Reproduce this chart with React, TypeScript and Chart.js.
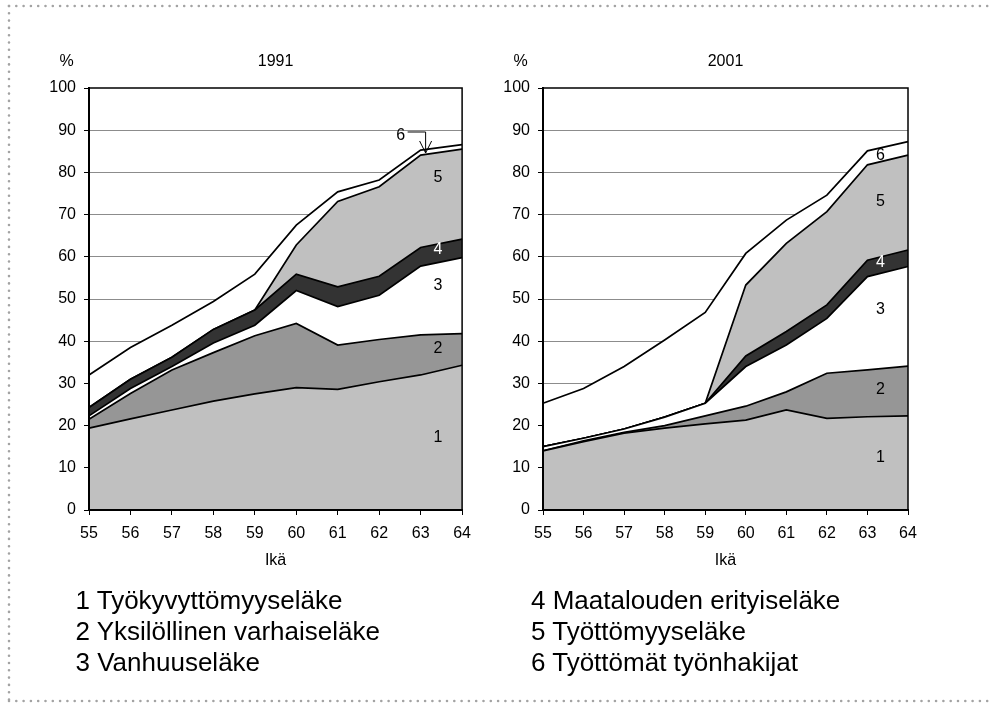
import React, { useEffect, useRef } from "react";
import { Chart, registerables } from "chart.js";

Chart.register(...registerables);

// ---------- data ----------
const AGES = ["55", "56", "57", "58", "59", "60", "61", "62", "63", "64"];
const Y_MIN = 0;
const Y_MAX = 100;
const Y_STEP = 10;

const SERIES_NAMES = [
  "Työkyvyttömyyseläke",
  "Yksilöllinen varhaiseläke",
  "Vanhuuseläke",
  "Maatalouden erityiseläke",
  "Työttömyyseläke",
  "Työttömät työnhakijat",
];

// 1991 (stacked shares, %)
const Y1991_S1 = [19.4, 21.6, 23.7, 25.8, 27.5, 29.0, 28.6, 30.4, 32.0, 34.3];
const Y1991_S2 = [2.1, 6.0, 9.5, 11.5, 13.8, 15.2, 10.5, 10.0, 9.5, 7.5];
const Y1991_S3 = [0.8, 1.2, 0.8, 2.3, 2.5, 7.8, 9.1, 10.5, 16.3, 18.0];
const Y1991_S4 = [2.0, 2.2, 2.2, 3.2, 3.6, 3.9, 4.7, 4.5, 4.4, 4.4];
const Y1991_S5 = [0, 0, 0, 0, 0, 6.9, 20.2, 21.2, 21.9, 21.3];
const Y1991_S6 = [7.7, 7.5, 7.6, 6.6, 8.5, 4.7, 2.3, 1.6, 1.2, 1.1];

// 2001 (stacked shares, %)
const Y2001_S1 = [14.0, 16.2, 18.2, 19.4, 20.4, 21.3, 23.7, 21.7, 22.1, 22.3];
const Y2001_S2 = [0.0, 0.2, 0.2, 0.6, 1.9, 3.3, 4.3, 10.7, 11.1, 11.8];
const Y2001_S3 = [1.0, 0.6, 0.8, 2.0, 3.0, 9.4, 11.1, 13.0, 22.1, 23.6];
const Y2001_S4 = [0, 0, 0, 0, 0, 2.5, 3.2, 3.2, 3.9, 3.9];
const Y2001_S5 = [0, 0, 0, 0, 0, 16.8, 20.9, 22.1, 22.6, 22.5];
const Y2001_S6 = [10.3, 11.8, 14.8, 18.3, 21.5, 7.5, 5.5, 3.9, 3.3, 3.2];

const LEGEND_LEFT = ["1 Työkyvyttömyyseläke", "2 Yksilöllinen varhaiseläke", "3 Vanhuuseläke"];
const LEGEND_RIGHT = ["4 Maatalouden erityiseläke", "5 Työttömyyseläke", "6 Työttömät työnhakijat"];

// in-chart number labels: text, category position, value
const LABELS_1991 = [
  { t: "1", i: 8.42, v: 17.1, white: false },
  { t: "2", i: 8.42, v: 38.2, white: false },
  { t: "3", i: 8.42, v: 53.2, white: false },
  { t: "4", i: 8.42, v: 61.6, white: true },
  { t: "5", i: 8.42, v: 78.8, white: false },
];
const LABELS_2001 = [
  { t: "1", i: 8.32, v: 12.5, white: false },
  { t: "2", i: 8.32, v: 28.6, white: false },
  { t: "3", i: 8.32, v: 47.4, white: false },
  { t: "4", i: 8.32, v: 58.6, white: true },
  { t: "5", i: 8.32, v: 73.0, white: false },
  { t: "6", i: 8.32, v: 83.9, white: false },
];
// arrow pointing at series 6 in 1991 panel
const ARROW_1991 = { t: "6", i: 8.12, v: 84.6 };

// ---------- styles ----------
const FONT = "'Liberation Sans', Arial, sans-serif";
const FILLS = ["#c0c0c0", "#969696", "#ffffff", "#333333", "#c0c0c0", "#ffffff"];

type Lbl = { t: string; i: number; v: number; white: boolean };

function buildConfig(
  series: number[][],
  title: string,
  labels: Lbl[],
  arrow: { t: string; i: number; v: number } | null,
  yWidth: number,
  padRight: number,
  padTop: number,
  xHeight: number
): any {
  const decor = {
    id: "decor" + title,
    afterDatasetsDraw(chart: any) {
      const { ctx, chartArea: a, scales } = chart;
      const x = scales.x;
      const y = scales.y;
      ctx.save();
      // plot border
      ctx.strokeStyle = "#000";
      ctx.lineWidth = 1.5;
      ctx.strokeRect(a.left, a.top, a.right - a.left, a.bottom - a.top);
      ctx.lineWidth = 2;
      ctx.beginPath();
      ctx.moveTo(a.left, a.top);
      ctx.lineTo(a.left, a.bottom);
      ctx.lineTo(a.right, a.bottom);
      ctx.stroke();
      // number labels
      ctx.font = `16px ${FONT}`;
      ctx.textAlign = "center";
      ctx.textBaseline = "middle";
      for (const l of labels) {
        ctx.fillStyle = l.white ? "#ffffff" : "#000000";
        ctx.fillText(l.t, x.getPixelForValue(l.i), y.getPixelForValue(l.v));
      }
      if (arrow) {
        const tx = x.getPixelForValue(arrow.i);
        const ty = y.getPixelForValue(arrow.v);
        ctx.strokeStyle = "#000";
        ctx.lineWidth = 1;
        ctx.beginPath();
        ctx.moveTo(tx - 18, ty - 21);
        ctx.lineTo(tx, ty - 21);
        ctx.lineTo(tx, ty);
        ctx.moveTo(tx - 6, ty - 12);
        ctx.lineTo(tx, ty);
        ctx.lineTo(tx + 6, ty - 12);
        ctx.stroke();
        ctx.fillStyle = "#000";
        ctx.fillText(arrow.t, tx - 25, ty - 17);
      }
      ctx.restore();
    },
    afterDraw(chart: any) {
      const { ctx, chartArea: a } = chart;
      ctx.save();
      ctx.fillStyle = "#000";
      ctx.font = `16px ${FONT}`;
      ctx.textAlign = "center";
      ctx.textBaseline = "middle";
      ctx.fillText("%", a.left - 22.5, 61.5);
      ctx.fillText(title, (a.left + a.right) / 2, 61.5);
      ctx.fillText("Ikä", (a.left + a.right) / 2, 561);
      ctx.restore();
    },
  };

  return {
    type: "line",
    data: {
      labels: AGES,
      datasets: series.map((d, k) => ({
        label: SERIES_NAMES[k],
        data: d,
        fill: k === 0 ? "origin" : "-1",
        backgroundColor: FILLS[k],
        borderColor: "#000000",
        borderWidth: 1.7,
        pointRadius: 0,
        pointHoverRadius: 0,
        tension: 0,
      })),
    },
    options: {
      animation: false,
      responsive: false,
      maintainAspectRatio: false,
      events: [],
      layout: { padding: { top: padTop, left: 0, right: padRight, bottom: 0 } },
      plugins: {
        legend: { display: false },
        tooltip: { enabled: false },
        title: { display: false },
      },
      scales: {
        x: {
          type: "category",
          offset: false,
          grid: {
            display: true,
            drawOnChartArea: false,
            drawTicks: true,
            tickLength: 5,
            tickColor: "#000",
            color: "#000",
          },
          border: { display: true, color: "#000", width: 2 },
          ticks: {
            color: "#000",
            font: { family: FONT, size: 16 },
            padding: 9,
            maxRotation: 0,
            autoSkip: false,
          },
          afterFit: (s: any) => {
            s.height = xHeight;
          },
        },
        y: {
          stacked: true,
          min: Y_MIN,
          max: Y_MAX,
          grid: {
            color: (c: any) =>
              c.tick && (c.tick.value === Y_MIN || c.tick.value === Y_MAX) ? "rgba(0,0,0,0)" : "#8c8c8c",
            lineWidth: 1,
            drawTicks: true,
            tickLength: 5,
            tickColor: "#000",
          },
          border: { display: true, color: "#000", width: 2 },
          ticks: {
            stepSize: Y_STEP,
            color: "#000",
            font: { family: FONT, size: 16 },
            padding: 8,
          },
          afterFit: (s: any) => {
            s.width = yWidth;
          },
        },
      },
    },
    plugins: [decor],
  };
}

function Panel(props: {
  left: number;
  width: number;
  height: number;
  title: string;
  series: number[][];
  labels: Lbl[];
  arrow: { t: string; i: number; v: number } | null;
  yWidth: number;
  padRight: number;
}) {
  const ref = useRef<HTMLCanvasElement>(null);
  useEffect(() => {
    const cfg = buildConfig(
      props.series,
      props.title,
      props.labels,
      props.arrow,
      props.yWidth,
      props.padRight,
      88,
      props.height - 510
    );
    const chart = new Chart(ref.current as HTMLCanvasElement, cfg);
    return () => chart.destroy();
  }, []);
  return (
    <canvas
      ref={ref}
      width={props.width}
      height={props.height}
      style={{ position: "absolute", left: props.left, top: 0, width: props.width, height: props.height }}
    />
  );
}

function DottedFrame() {
  return (
    <svg
      width={989}
      height={709}
      style={{ position: "absolute", left: 0, top: 0 }}
    >
      <g stroke="#a3a3a3" strokeWidth={2.6} strokeLinecap="round" strokeDasharray="0 7.3" fill="none">
        <line x1={9} y1={6} x2={989} y2={6} />
        <line x1={9} y1={6} x2={9} y2={701} />
        <line x1={9} y1={701} x2={989} y2={701} />
      </g>
    </svg>
  );
}

export default function App() {
  const legendStyle = (left: number): React.CSSProperties => ({
    position: "absolute",
    left,
    top: 584.5,
    fontFamily: FONT,
    fontSize: 26,
    lineHeight: "31px",
    color: "#000",
    whiteSpace: "nowrap",
  });
  return (
    <div
      style={{
        position: "fixed",
        left: 0,
        top: 0,
        width: 989,
        height: 709,
        background: "#fff",
        overflow: "hidden",
      }}
    >
      <DottedFrame />
      <Panel
        left={0}
        width={480}
        height={600}
        title="1991"
        series={[Y1991_S1, Y1991_S2, Y1991_S3, Y1991_S4, Y1991_S5, Y1991_S6]}
        labels={LABELS_1991}
        arrow={ARROW_1991}
        yWidth={89}
        padRight={17}
      />
      <Panel
        left={480}
        width={460}
        height={600}
        title="2001"
        series={[Y2001_S1, Y2001_S2, Y2001_S3, Y2001_S4, Y2001_S5, Y2001_S6]}
        labels={LABELS_2001}
        arrow={null}
        yWidth={63}
        padRight={32}
      />
      <div style={legendStyle(75.5)}>
        {LEGEND_LEFT.map((t) => (
          <div key={t}>{t}</div>
        ))}
      </div>
      <div style={legendStyle(531)}>
        {LEGEND_RIGHT.map((t) => (
          <div key={t}>{t}</div>
        ))}
      </div>
    </div>
  );
}
